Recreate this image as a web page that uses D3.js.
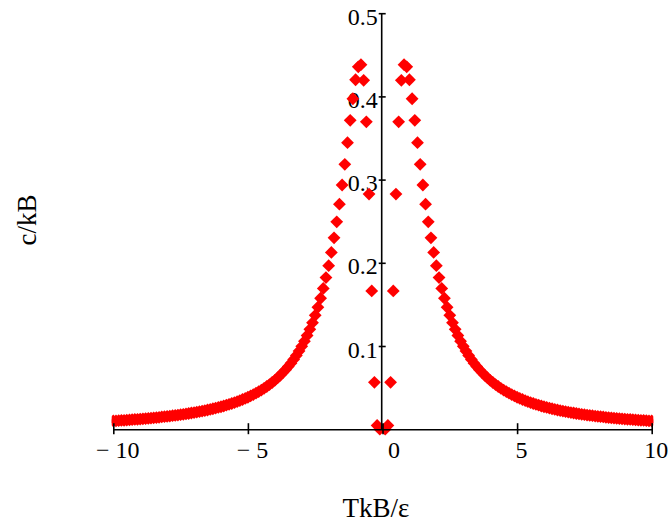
<!DOCTYPE html>
<html>
<head>
<meta charset="utf-8">
<script src="https://cdn.jsdelivr.net/npm/d3@7"></script>
<style>
  html, body { margin: 0; padding: 0; background: #fff; }
  svg { display: block; }
  text { font-family: "Liberation Serif", "Times New Roman", Times, serif; fill: #000; }
</style>
</head>
<body>
<script>
// Reduced temperature T kB/ε, negative branch
const tNeg = [-10.0,-9.9,-9.8,-9.7,-9.6,-9.5,-9.4,-9.3,-9.2,-9.1,
  -9.0,-8.9,-8.8,-8.7,-8.6,-8.5,-8.4,-8.3,-8.2,-8.1,
  -8.0,-7.9,-7.8,-7.7,-7.6,-7.5,-7.4,-7.3,-7.2,-7.1,
  -7.0,-6.9,-6.8,-6.7,-6.6,-6.5,-6.4,-6.3,-6.2,-6.1,
  -6.0,-5.9,-5.8,-5.7,-5.6,-5.5,-5.4,-5.3,-5.2,-5.1,
  -5.0,-4.9,-4.8,-4.7,-4.6,-4.5,-4.4,-4.3,-4.2,-4.1,
  -4.0,-3.9,-3.8,-3.7,-3.6,-3.5,-3.4,-3.3,-3.2,-3.1,
  -3.0,-2.9,-2.8,-2.7,-2.6,-2.5,-2.4,-2.3,-2.2,-2.1,
  -2.0,-1.9,-1.8,-1.7,-1.6,-1.5,-1.4,-1.3,-1.2,-1.1,
  -1.0,-0.9,-0.8,-0.7,-0.6,-0.5,-0.4,-0.3,-0.2,-0.1];

// Heat capacity c/kB on the negative branch
const cNeg = [0.0099,0.0101,0.0103,0.0105,0.0107,0.0110,0.0112,0.0114,0.0117,0.0119,
  0.0122,0.0125,0.0128,0.0130,0.0133,0.0137,0.0140,0.0143,0.0147,0.0150,
  0.0154,0.0158,0.0162,0.0166,0.0170,0.0175,0.0179,0.0184,0.0189,0.0195,
  0.0200,0.0206,0.0212,0.0218,0.0224,0.0231,0.0238,0.0246,0.0254,0.0262,
  0.0270,0.0279,0.0289,0.0299,0.0309,0.0320,0.0331,0.0344,0.0357,0.0370,
  0.0384,0.0400,0.0416,0.0433,0.0451,0.0470,0.0491,0.0513,0.0536,0.0561,
  0.0588,0.0616,0.0647,0.0680,0.0715,0.0753,0.0794,0.0839,0.0887,0.0939,
  0.0996,0.1058,0.1126,0.1200,0.1280,0.1369,0.1466,0.1574,0.1692,0.1822,
  0.1966,0.2125,0.2300,0.2493,0.2705,0.2935,0.3183,0.3444,0.3712,0.3972,
  0.4200,0.4356,0.4381,0.4193,0.3695,0.2826,0.1662,0.0564,0.0045,0.0000];

// Reduced temperature, positive branch
const tPos = [0.1,0.2,0.3,0.4,0.5,0.6,0.7,0.8,0.9,1.0,
  1.1,1.2,1.3,1.4,1.5,1.6,1.7,1.8,1.9,2.0,
  2.1,2.2,2.3,2.4,2.5,2.6,2.7,2.8,2.9,3.0,
  3.1,3.2,3.3,3.4,3.5,3.6,3.7,3.8,3.9,4.0,
  4.1,4.2,4.3,4.4,4.5,4.6,4.7,4.8,4.9,5.0,
  5.1,5.2,5.3,5.4,5.5,5.6,5.7,5.8,5.9,6.0,
  6.1,6.2,6.3,6.4,6.5,6.6,6.7,6.8,6.9,7.0,
  7.1,7.2,7.3,7.4,7.5,7.6,7.7,7.8,7.9,8.0,
  8.1,8.2,8.3,8.4,8.5,8.6,8.7,8.8,8.9,9.0,
  9.1,9.2,9.3,9.4,9.5,9.6,9.7,9.8,9.9,10.0];

// Heat capacity c/kB on the positive branch
const cPos = [0.0000,0.0045,0.0564,0.1662,0.2826,0.3695,0.4193,0.4381,0.4356,0.4200,
  0.3972,0.3712,0.3444,0.3183,0.2935,0.2705,0.2493,0.2300,0.2125,0.1966,
  0.1822,0.1692,0.1574,0.1466,0.1369,0.1280,0.1200,0.1126,0.1058,0.0996,
  0.0939,0.0887,0.0839,0.0794,0.0753,0.0715,0.0680,0.0647,0.0616,0.0588,
  0.0561,0.0536,0.0513,0.0491,0.0470,0.0451,0.0433,0.0416,0.0400,0.0384,
  0.0370,0.0357,0.0344,0.0331,0.0320,0.0309,0.0299,0.0289,0.0279,0.0270,
  0.0262,0.0254,0.0246,0.0238,0.0231,0.0224,0.0218,0.0212,0.0206,0.0200,
  0.0195,0.0189,0.0184,0.0179,0.0175,0.0170,0.0166,0.0162,0.0158,0.0154,
  0.0150,0.0147,0.0143,0.0140,0.0137,0.0133,0.0130,0.0128,0.0125,0.0122,
  0.0119,0.0117,0.0114,0.0112,0.0110,0.0107,0.0105,0.0103,0.0101,0.0099];

// Axis ticks and labels
const xTicks = [-10, -5, 0, 5, 10];
const xTickLabels = ["\u2212 10", "\u2212 5", "0", "5", "10"];
const yTicks = [0.1, 0.2, 0.3, 0.4, 0.5];
const yTickLabels = ["0.1", "0.2", "0.3", "0.4", "0.5"];
const xTitle = "TkB/\u03b5";
const yTitle = "c/kB";

const W = 670, H = 527;
const x = d3.scaleLinear().domain([-10, 10]).range([113.3, 651.7]);
const y = d3.scaleLinear().domain([0, 0.5]).range([429.2, 13.2]);

const points = tNeg.map((t, i) => ({ t, c: cNeg[i] }))
  .concat(tPos.map((t, i) => ({ t, c: cPos[i] })));

const svg = d3.select("body").append("svg")
  .attr("width", W).attr("height", H)
  .attr("viewBox", `0 0 ${W} ${H}`);

svg.append("rect").attr("width", W).attr("height", H).attr("fill", "#fff");

const tickFont = 24;
const lineW = 1.6;

// Axes (labels sit beneath the markers, lines above them)
const xAxisG = svg.append("g")
  .attr("transform", `translate(0,${y(0)})`)
  .call(d3.axisBottom(x).tickValues(xTicks).tickSizeOuter(0)
    .tickFormat((d, i) => xTickLabels[i]));
xAxisG.selectAll(".tick text")
  .attr("y", 29).attr("dy", null)
  .attr("dx", d => d === 0 ? 11 : 4)
  .attr("font-size", tickFont)
  .attr("font-family", '"Liberation Serif", "Times New Roman", serif');
xAxisG.selectAll(".tick line").attr("y1", -6).attr("y2", 5)
  .attr("stroke", "#000").attr("stroke-width", lineW);
xAxisG.select(".domain").attr("stroke", "#000").attr("stroke-width", lineW);

const yAxisG = svg.append("g")
  .attr("transform", `translate(${x(0) - 0.8},0)`)
  .call(d3.axisLeft(y).tickValues(yTicks).tickSizeOuter(0)
    .tickFormat((d, i) => yTickLabels[i]));
yAxisG.selectAll(".tick text")
  .attr("x", -4).attr("y", 11).attr("dy", null)
  .attr("font-size", tickFont)
  .attr("font-family", '"Liberation Serif", "Times New Roman", serif');
yAxisG.selectAll(".tick line").attr("x1", -3).attr("x2", 4)
  .attr("stroke", "#000").attr("stroke-width", lineW);
yAxisG.select(".domain").attr("stroke", "#000").attr("stroke-width", lineW)
  .attr("d", `M0,${y(0)}V${y(0.5)}`);
svg.selectAll(".domain").attr("fill", "none");

// Markers, clipped horizontally to the plotted temperature range
svg.append("clipPath").attr("id", "plot-clip")
  .append("rect")
  .attr("x", x(-10) - 1.6).attr("y", 0)
  .attr("width", x(10) - x(-10) + 3.2).attr("height", H);

const r = 6.4;
const diamond = `M0,${-r}L${r},0L0,${r}L${-r},0Z`;
svg.append("g").attr("clip-path", "url(#plot-clip)")
  .selectAll("path").data(points).join("path")
  .attr("d", diamond)
  .attr("transform", d => `translate(${x(d.t)},${y(d.c)})`)
  .attr("fill", "#ff0000");

// Bring axis lines and tick marks in front of the markers
const overlay = svg.append("g");
[xAxisG, yAxisG].forEach(g => {
  const tr = g.attr("transform");
  const o = overlay.append("g").attr("transform", tr);
  g.selectAll(".domain, .tick line").each(function () {
    const tick = this.parentNode.classList && this.parentNode.classList.contains("tick")
      ? this.parentNode.getAttribute("transform") : null;
    const holder = tick ? o.append("g").attr("transform", tick) : o;
    holder.node().appendChild(this);
  });
});

// Axis titles
svg.append("text")
  .attr("x", 376).attr("y", 517)
  .attr("text-anchor", "middle")
  .attr("font-size", 27)
  .text(xTitle);

svg.append("text")
  .attr("transform", "translate(36,220) rotate(-90)")
  .attr("text-anchor", "middle")
  .attr("font-size", 27)
  .text(yTitle);
</script>
</body>
</html>
